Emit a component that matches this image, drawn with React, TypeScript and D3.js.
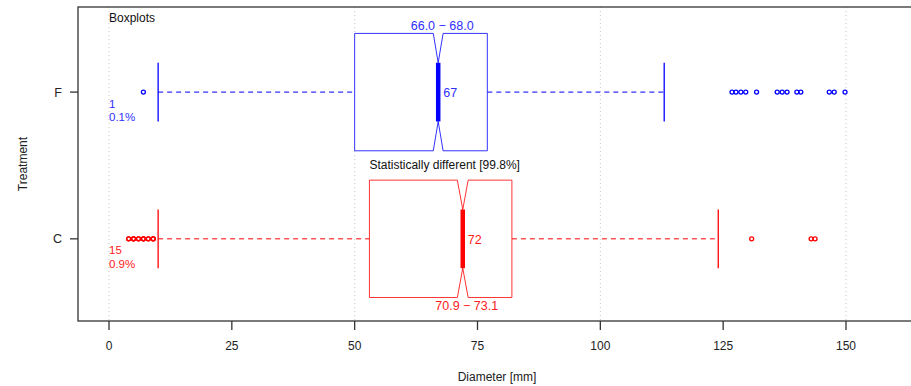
import React from "react";
import * as d3 from "d3";

const W = 911;
const H = 386;

const categories = ["C", "F"];
const colors = ["#ff0000", "#0000ff"];
const textColors = ["#ff2020", "#3030ff"];
const whiskerLo = [10, 10];
const q1 = [53, 50];
const medians = [72, 67];
const q3 = [82, 77];
const whiskerHi = [124, 113];
const notchLo = [70.9, 66.0];
const notchHi = [73.1, 68.0];
const lowOutliers = [
  [4, 4, 5, 5, 5, 6, 6, 7, 7, 7, 8, 8, 9, 9, 9],
  [7],
];
const highOutliers = [
  [130.8, 142.9, 143.7],
  [126.8, 127.6, 128.6, 129.6, 131.8, 136, 137, 138, 140, 140.8, 146.6, 147.6, 149.8],
];
const lowCountLabels = ["15", "1"];
const lowPctLabels = ["0.9%", "0.1%"];
const xTicks = [0, 25, 50, 75, 100, 125, 150];
const gridTicks = [0, 50, 100, 150];
const title = "Boxplots";
const compareText = "Statistically different [99.8%]";
const xTitle = "Diameter [mm]";
const yTitle = "Treatment";

const plot = { left: 78, right: 930, top: 7, bottom: 321 };
const FONT = "Liberation Sans, Arial, sans-serif";

export default function App() {
  const x = d3.scaleLinear().domain([0, 150]).range([109, 846]);
  const y = d3.scaleLinear().domain([0.44, 2.58]).range([plot.bottom, plot.top]);
  const bandH = (y(1) - y(2)) * 0.8;

  const boxes = categories.map((cat, i) => {
    const cy = y(i + 1);
    const top = cy - bandH / 2;
    const bot = cy + bandH / 2;
    const depth = bandH / 4;
    const pts: [number, number][] = [
      [x(q1[i]), top],
      [x(notchLo[i]), top],
      [x(medians[i]), top + depth],
      [x(notchHi[i]), top],
      [x(q3[i]), top],
      [x(q3[i]), bot],
      [x(notchHi[i]), bot],
      [x(medians[i]), bot - depth],
      [x(notchLo[i]), bot],
      [x(q1[i]), bot],
    ];
    const path = d3.line()(pts) + "Z";
    const c = colors[i];
    const tc = textColors[i];
    const notchLabel = `${notchLo[i].toFixed(1)} \u2212 ${notchHi[i].toFixed(1)}`;
    const isTop = i === 1;
    return (
      <g key={cat}>
        <line x1={x(whiskerLo[i])} x2={x(q1[i])} y1={cy} y2={cy} stroke={c} strokeDasharray="5,4" strokeWidth={1} />
        <line x1={x(q3[i])} x2={x(whiskerHi[i])} y1={cy} y2={cy} stroke={c} strokeDasharray="5,4" strokeWidth={1} />
        <line x1={x(whiskerLo[i])} x2={x(whiskerLo[i])} y1={top + depth} y2={bot - depth} stroke={c} strokeWidth={1.3} />
        <line x1={x(whiskerHi[i])} x2={x(whiskerHi[i])} y1={top + depth} y2={bot - depth} stroke={c} strokeWidth={1.3} />
        <path d={path} fill="white" stroke={c} strokeWidth={1} strokeOpacity={0.8} />
        <line x1={x(medians[i])} x2={x(medians[i])} y1={top + depth} y2={bot - depth} stroke={c} strokeWidth={4.5} />
        {lowOutliers[i].map((v, j) => (
          <circle key={"l" + j} cx={x(v)} cy={cy} r={2} fill="none" stroke={c} strokeWidth={1.3} />
        ))}
        {highOutliers[i].map((v, j) => (
          <circle key={"h" + j} cx={x(v)} cy={cy} r={2} fill="none" stroke={c} strokeWidth={1.3} />
        ))}
        <text x={x(0)} y={cy + 15.5} fill={tc} fontSize={11.5} fontFamily={FONT}>{lowCountLabels[i]}</text>
        <text x={x(0)} y={cy + 29} fill={tc} fontSize={11.5} fontFamily={FONT}>{lowPctLabels[i]}</text>
        <text x={x(medians[i]) + 5} y={cy + 5} fill={tc} fontSize={12.5} fontFamily={FONT}>{medians[i]}</text>
        <text
          x={x(medians[i]) + 4}
          y={isTop ? top - 3 : bot + 12}
          fill={tc}
          fontSize={12.5}
          textAnchor="middle"
          fontFamily={FONT}
        >
          {notchLabel}
        </text>
      </g>
    );
  });

  return (
    <svg width={W} height={H} style={{ position: "fixed", left: 0, top: 0, background: "white" }}>
      <rect x={0} y={0} width={W} height={H} fill="white" />
      {gridTicks.map((t) => (
        <line key={t} x1={x(t)} x2={x(t)} y1={plot.top} y2={plot.bottom} stroke="#c8c8c8" strokeDasharray="1,3" strokeWidth={1} />
      ))}
      {boxes}
      <text x={x(0)} y={22} fontSize={12} fontFamily={FONT} fill="#111">{title}</text>
      <text x={x(q1[0])} y={y(1) - bandH / 2 - 11} fontSize={12} fontFamily={FONT} fill="#111">{compareText}</text>
      <rect x={plot.left} y={plot.top} width={plot.right - plot.left} height={plot.bottom - plot.top} fill="none" stroke="#333" strokeWidth={1.3} />
      {xTicks.map((t) => (
        <g key={t}>
          <line x1={x(t)} x2={x(t)} y1={plot.bottom} y2={plot.bottom + 9} stroke="#333" strokeWidth={1.3} />
          <text x={x(t)} y={350} textAnchor="middle" fontSize={12} fontFamily={FONT} fill="#222">{t}</text>
        </g>
      ))}
      {categories.map((c, i) => (
        <g key={c}>
          <line x1={plot.left - 8} x2={plot.left} y1={y(i + 1)} y2={y(i + 1)} stroke="#333" strokeWidth={1.3} />
          <text x={62} y={y(i + 1) + 4.5} textAnchor="end" fontSize={12.5} fontFamily={FONT} fill="#222">{c}</text>
        </g>
      ))}
      <text x={497} y={381} textAnchor="middle" fontSize={12} fontFamily={FONT} fill="#222">{xTitle}</text>
      <text transform={`translate(27,${(plot.top + plot.bottom) / 2}) rotate(-90)`} textAnchor="middle" fontSize={12} fontFamily={FONT} fill="#222">{yTitle}</text>
    </svg>
  );
}
